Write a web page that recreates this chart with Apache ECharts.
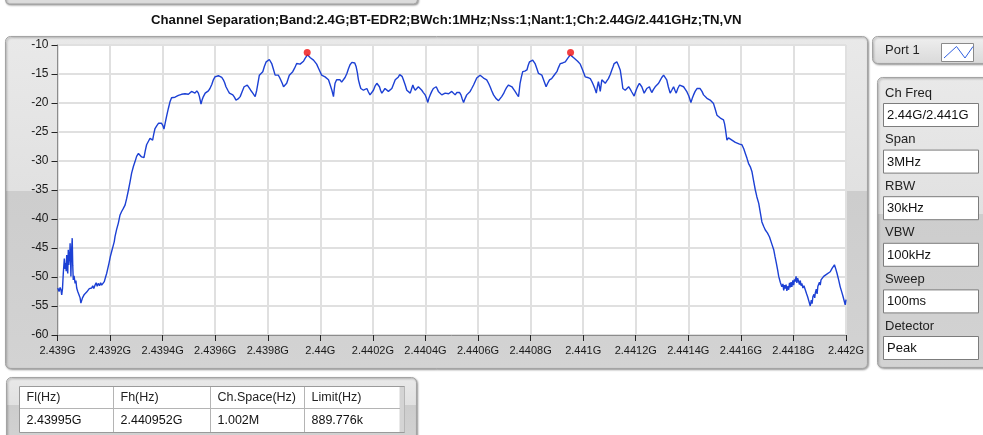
<!DOCTYPE html>
<html>
<head>
<meta charset="utf-8">
<script src="https://cdn.jsdelivr.net/npm/echarts@6/dist/echarts.min.js"></script>
<style>
  html, body { margin: 0; padding: 0; background: #fff; }
  #chart { width: 983px; height: 435px; }
</style>
</head>
<body>
<div id="chart"></div>
<script>
// spectrum trace
var startMHz = 2439
var offsetMHz = [
  0.001, 0.006, 0.010, 0.013, 0.016, 0.019, 0.022, 0.026, 0.029, 0.031, 0.033, 0.035, 0.037, 0.039, 0.041, 0.043,
  0.045, 0.047, 0.048, 0.050, 0.051, 0.053, 0.056, 0.058, 0.060, 0.063, 0.067, 0.070, 0.073, 0.077, 0.082, 0.086,
  0.089, 0.092, 0.095, 0.098, 0.102, 0.107, 0.111, 0.117, 0.121, 0.125, 0.130, 0.134, 0.138, 0.143, 0.147, 0.151,
  0.155, 0.160, 0.164, 0.168, 0.173, 0.178, 0.183, 0.187, 0.191, 0.196, 0.201, 0.206, 0.212, 0.216,
  0.219, 0.225, 0.2315, 0.238, 0.244, 0.250, 0.257, 0.263, 0.270, 0.276, 0.282, 0.289, 0.295, 0.301, 0.308, 0.314,
  0.320, 0.329, 0.334, 0.339, 0.346, 0.352, 0.357, 0.362, 0.366, 0.371, 0.378, 0.384, 0.390, 0.396, 0.401, 0.405,
  0.410, 0.416, 0.422, 0.428, 0.434, 0.441, 0.447, 0.454, 0.460, 0.466, 0.472, 0.479, 0.485, 0.492, 0.498, 0.504,
  0.510, 0.517, 0.523, 0.530, 0.536, 0.540, 0.546, 0.550, 0.555, 0.562, 0.568, 0.574, 0.580, 0.587, 0.593, 0.599,
  0.606, 0.612, 0.618, 0.625, 0.631, 0.636, 0.641, 0.648, 0.654, 0.661, 0.667, 0.673, 0.679, 0.687, 0.695, 0.702,
  0.710, 0.716, 0.722, 0.728, 0.735, 0.743, 0.752, 0.758, 0.763, 0.768, 0.775, 0.781, 0.787, 0.794, 0.800, 0.806,
  0.811, 0.815, 0.821, 0.828, 0.834, 0.840, 0.845, 0.849, 0.855, 0.860, 0.866, 0.872, 0.877, 0.882, 0.888, 0.895,
  0.902, 0.910, 0.917, 0.923, 0.929, 0.936, 0.942, 0.947, 0.951, 0.956, 0.962, 0.967, 0.974, 0.980, 0.986, 0.993,
  1.000, 1.005, 1.012, 1.018, 1.024, 1.031, 1.037, 1.044, 1.050, 1.053, 1.056, 1.062, 1.069, 1.075, 1.081, 1.088,
  1.094, 1.101, 1.107, 1.113, 1.120, 1.126, 1.131, 1.136, 1.141, 1.145, 1.150, 1.154, 1.159, 1.164, 1.170, 1.177,
  1.183, 1.189, 1.195, 1.202, 1.208, 1.215, 1.220, 1.225, 1.229, 1.234, 1.240, 1.246, 1.252, 1.259, 1.265, 1.272,
  1.278, 1.285, 1.291, 1.297, 1.302, 1.306, 1.311, 1.316, 1.323, 1.329, 1.335, 1.342, 1.347, 1.352, 1.356, 1.361,
  1.367, 1.373, 1.380, 1.386, 1.392, 1.399, 1.404, 1.409, 1.413, 1.418, 1.424, 1.430, 1.435, 1.441, 1.445, 1.449,
  1.456, 1.462, 1.468, 1.475, 1.481, 1.488, 1.494, 1.500, 1.507, 1.513, 1.519, 1.526, 1.530, 1.535, 1.540, 1.545,
  1.551, 1.557, 1.563, 1.570, 1.576, 1.583, 1.589, 1.595, 1.602, 1.608, 1.614, 1.621, 1.627, 1.633, 1.640, 1.646,
  1.652, 1.659, 1.668, 1.678, 1.684, 1.690, 1.697, 1.703, 1.709, 1.716, 1.722, 1.729, 1.735, 1.741, 1.748, 1.754,
  1.757, 1.760, 1.765, 1.770, 1.778, 1.786, 1.791, 1.796, 1.802, 1.808, 1.813, 1.817, 1.824, 1.830, 1.836, 1.843,
  1.851, 1.859, 1.865, 1.872, 1.880, 1.887, 1.893, 1.900, 1.906, 1.913, 1.922, 1.932, 1.941, 1.946, 1.951, 1.957,
  1.964, 1.970, 1.979, 1.989, 1.998, 2.008, 2.017, 2.027, 2.033, 2.039, 2.045, 2.050, 2.054, 2.058, 2.062, 2.065,
  2.068, 2.071, 2.077, 2.084, 2.090, 2.096, 2.103, 2.109, 2.114, 2.118, 2.123, 2.128, 2.134, 2.141, 2.146, 2.151,
  2.155, 2.160, 2.166, 2.173, 2.179, 2.185, 2.194, 2.199, 2.204, 2.209, 2.214, 2.219, 2.223, 2.228, 2.232, 2.237,
  2.242, 2.247, 2.252, 2.256, 2.261, 2.267, 2.274, 2.280, 2.287, 2.293, 2.299, 2.306, 2.312, 2.318, 2.324, 2.331,
  2.337, 2.344, 2.349, 2.354, 2.360, 2.367, 2.374, 2.382, 2.388, 2.395, 2.402, 2.410, 2.415, 2.420, 2.426, 2.433,
  2.439, 2.445, 2.452, 2.458, 2.464, 2.471, 2.477, 2.483, 2.490, 2.496, 2.502, 2.509, 2.515, 2.522, 2.528, 2.534,
  2.538, 2.541, 2.544, 2.547, 2.553, 2.560, 2.566, 2.572, 2.579, 2.585, 2.595, 2.604, 2.611, 2.617, 2.623, 2.629,
  2.636, 2.642, 2.648, 2.655, 2.661, 2.668, 2.674, 2.680, 2.687, 2.693, 2.701, 2.709, 2.717, 2.725, 2.730, 2.735,
  2.740, 2.744, 2.750, 2.756, 2.760, 2.763, 2.766, 2.769, 2.772, 2.775, 2.778, 2.782, 2.785, 2.788, 2.791, 2.794,
  2.798, 2.801, 2.804, 2.807, 2.810, 2.813, 2.816, 2.820, 2.823, 2.826, 2.829, 2.832, 2.836, 2.840, 2.845, 2.850,
  2.854, 2.859, 2.864, 2.868, 2.871, 2.874, 2.878, 2.881, 2.883, 2.887, 2.890, 2.893, 2.896, 2.899, 2.902, 2.905,
  2.909, 2.915, 2.921, 2.927, 2.934, 2.940, 2.947, 2.951, 2.956, 2.961, 2.966, 2.972, 2.978, 2.984, 2.989, 2.993,
  2.997, 3.000
]
var levelDb = [
  -51.9, -52.5, -51.8, -52.2, -53.1, -52.0, -49.4, -46.8, -48.6, -47.6, -49.0, -46.2, -48.3, -49.4, -45.3, -47.9,
  -48.2, -45.6, -44.2, -47.5, -49.9, -46.0, -43.3, -48.0, -50.5, -49.8, -51.1, -50.6, -51.9, -52.5, -53.1, -53.6,
  -54.5, -54.3, -53.6, -53.7, -53.0, -53.1, -52.6, -52.5, -52.0, -52.3, -51.9, -51.5, -52.0, -51.4, -51.0, -51.6,
  -51.1, -51.5, -51.0, -51.4, -51.2, -50.8, -50.0, -49.4, -48.6, -47.6, -46.5, -45.6, -44.6, -43.9,
  -43.0, -41.8, -40.7, -39.3, -38.7, -38.2, -37.6, -36.5, -35.0, -33.6, -32.1, -30.9, -30.1, -29.2, -28.7, -28.9,
  -29.3, -29.4, -28.2, -27.2, -26.6, -26.1, -26.0, -26.4, -25.4, -24.4, -23.9, -23.5, -23.3, -23.5, -23.9, -24.5,
  -23.4, -22.1, -20.9, -19.8, -19.1, -18.9, -19.0, -19.2, -18.7, -18.6, -18.5, -18.2, -18.4, -18.1, -18.5, -18.3,
  -18.0, -18.2, -18.3, -17.9, -18.3, -18.9, -20.2, -19.5, -18.9, -18.3, -18.0, -17.9, -17.5, -16.8, -16.0, -15.5,
  -15.2, -15.3, -15.5, -15.6, -16.0, -16.5, -17.2, -17.8, -18.3, -18.4, -18.6, -19.0, -19.5, -19.3, -18.9, -18.1,
  -17.2, -17.0, -16.9, -17.3, -17.8, -18.3, -18.9, -17.8, -16.5, -15.2, -14.9, -14.6, -13.7, -12.9, -12.6, -12.5,
  -12.8, -13.2, -14.1, -15.2, -15.1, -15.2, -15.6, -16.0, -16.6, -17.2, -16.9, -16.6, -15.9, -15.2, -14.9, -14.6,
  -14.0, -13.2, -13.0, -13.3, -13.2, -12.8, -12.3, -12.0, -11.7, -12.0, -12.2, -12.3, -12.6, -12.9, -13.3, -14.0,
  -14.7, -15.2, -15.3, -15.5, -15.6, -16.0, -16.8, -17.8, -18.9, -17.6, -16.6, -16.0, -16.1, -16.0, -16.4, -16.3,
  -15.6, -14.9, -14.1, -13.4, -13.0, -12.9, -13.1, -13.7, -14.8, -16.0, -16.9, -17.5, -17.7, -17.8, -17.6, -17.5,
  -18.1, -18.6, -18.3, -17.8, -17.1, -16.6, -16.9, -17.2, -17.8, -18.3, -17.9, -17.5, -17.8, -18.0, -17.8, -17.5,
  -16.8, -16.0, -15.7, -15.5, -15.1, -14.9, -15.4, -16.0, -16.9, -17.8, -18.1, -18.3, -17.6, -16.9, -17.4, -17.8,
  -17.5, -17.2, -17.5, -17.8, -18.2, -18.6, -19.2, -19.9, -19.2, -18.6, -18.0, -17.5, -17.3, -17.2, -17.6, -18.0,
  -18.3, -18.6, -18.4, -18.3, -18.5, -18.4, -18.2, -18.0, -18.3, -18.6, -18.2, -17.9, -18.2, -18.6, -19.3, -19.9,
  -19.2, -18.6, -18.3, -18.0, -17.5, -16.9, -16.3, -15.7, -15.4, -15.2, -15.4, -15.7, -15.8, -16.0, -16.6, -17.2,
  -17.9, -18.6, -19.2, -19.6, -19.3, -18.9, -18.4, -17.8, -17.3, -16.9, -17.0, -17.2, -17.6, -18.0, -18.5, -18.9,
  -17.8, -16.6, -15.5, -14.6, -14.5, -14.3, -13.5, -12.9, -12.7, -12.6, -12.9, -13.2, -14.1, -14.9, -15.0, -15.2,
  -16.2, -17.2, -16.6, -16.0, -15.8, -15.5, -15.0, -14.6, -13.9, -13.2, -13.1, -12.9, -12.3, -12.0, -11.7, -12.0,
  -12.2, -12.3, -12.8, -13.3, -14.3, -15.5, -15.6, -15.8, -16.3, -16.9, -17.6, -18.3, -17.2, -16.3, -17.2, -18.0,
  -17.0, -16.0, -16.3, -16.6, -16.2, -15.8, -15.1, -14.3, -13.7, -13.2, -13.0, -12.9, -13.5, -14.3, -15.8, -17.5,
  -17.7, -17.8, -17.5, -17.2, -17.6, -18.1, -18.8, -18.1, -17.5, -17.0, -16.6, -16.9, -17.2, -17.8, -18.3, -17.9,
  -17.5, -17.3, -17.2, -17.7, -18.2, -17.7, -17.2, -16.9, -16.6, -16.1, -15.6, -15.2, -15.5, -16.0, -17.2, -18.3,
  -17.8, -17.2, -17.8, -18.3, -17.5, -16.9, -17.0, -17.2, -17.6, -18.1, -18.8, -19.9, -19.2, -18.6, -18.0, -17.5,
  -17.4, -17.5, -18.0, -18.6, -18.9, -19.2, -19.4, -19.5, -19.7, -20.1, -21.0, -22.1, -22.4, -22.6, -22.8, -22.9,
  -23.6, -24.4, -25.4, -26.4, -26.0, -26.1, -26.4, -26.7, -26.8, -27.0, -27.1, -27.2, -27.9, -28.7, -29.5, -30.4,
  -31.0, -31.8, -33.3, -35.0, -36.2, -37.3, -38.9, -40.5, -41.3, -41.9, -42.4, -43.1, -44.2, -45.3, -46.5, -47.6,
  -48.8, -49.9, -50.9, -51.7, -51.2, -52.3, -51.4, -52.0, -51.3, -52.4, -51.6, -52.2, -51.0, -51.8, -50.9, -51.7,
  -50.6, -51.4, -50.4, -50.8, -49.9, -51.0, -50.2, -50.5, -51.3, -50.6, -51.5, -51.1, -51.9, -51.5, -52.2, -52.9,
  -53.4, -54.2, -55.0, -54.0, -54.6, -53.4, -53.0, -53.6, -52.8, -52.1, -52.9, -51.6, -51.7, -50.9, -51.4, -50.5,
  -50.2, -49.9, -49.7, -49.5, -49.7, -49.1, -48.5, -48.2, -47.9, -48.6, -49.4, -50.5, -51.7, -52.6, -53.4, -54.1,
  -54.8, -53.9
]
// the two red markers (Fl / Fh)
var markerMHz = [2439.95, 2440.952]
var markerDb = [-11.3, -11.3]

var title = 'Channel Separation;Band:2.4G;BT-EDR2;BWch:1MHz;Nss:1;Nant:1;Ch:2.44G/2.441GHz;TN,VN'
var settingNames = ['Ch Freq', 'Span', 'RBW', 'VBW', 'Sweep', 'Detector']
var settingValues = ['2.44G/2.441G', '3MHz', '30kHz', '100kHz', '100ms', 'Peak']
var tableHead = ['Fl(Hz)', 'Fh(Hz)', 'Ch.Space(Hz)', 'Limit(Hz)']
var tableRow = ['2.43995G', '2.440952G', '1.002M', '889.776k']

var FONT = '"Liberation Sans", Arial, sans-serif'

var trace = offsetMHz.map(function (o, i) {
  return [startMHz + o, levelDb[i]]
})
var markers = markerMHz.map(function (f, i) {
  return [f, markerDb[i]]
})

// grey LabVIEW style panel fill
function panelFill(split) {
  return new echarts.graphic.LinearGradient(0, 0, 0, 1, [
    { offset: 0, color: '#e9e9e9' },
    { offset: split, color: '#e1e1e1' },
    { offset: split + 0.001, color: '#cdcdcd' },
    { offset: 1, color: '#d3d3d3' }
  ])
}

var panelShadow = {
  shadowBlur: 2,
  shadowOffsetX: 1,
  shadowOffsetY: 1,
  shadowColor: 'rgba(0,0,0,0.35)'
}

var elements = []
// partial panel at the very top
elements.push({
  type: 'rect', z: -10,
  shape: { x: 5.5, y: -10, width: 412, height: 14, r: 4 },
  style: Object.assign({ fill: '#dcdcdc', stroke: '#a4a4a4', lineWidth: 1 }, panelShadow)
})
// main graph panel
elements.push({
  type: 'rect', z: -10,
  shape: { x: 5.5, y: 36.5, width: 862, height: 332, r: 5 },
  style: Object.assign({ fill: panelFill(0.465), stroke: '#a4a4a4', lineWidth: 1 }, panelShadow)
})
// port tab
elements.push({
  type: 'rect', z: -10,
  shape: { x: 872.5, y: 36.5, width: 130, height: 27, r: 5 },
  style: Object.assign({
    fill: new echarts.graphic.LinearGradient(0, 0, 0, 1, [
      { offset: 0, color: '#f0f0f0' }, { offset: 1, color: '#d9d9d9' }
    ]),
    stroke: '#a4a4a4', lineWidth: 1
  }, panelShadow)
})
elements.push({
  type: 'text', z: 5,
  style: { x: 885, y: 50, text: 'Port 1', font: '13px ' + FONT, fill: '#222', verticalAlign: 'middle' }
})
elements.push({
  type: 'rect', z: 5,
  shape: { x: 941.5, y: 43.5, width: 32, height: 18 },
  style: { fill: '#fff', stroke: '#8a8a8a', lineWidth: 1 }
})
elements.push({
  type: 'polyline', z: 6,
  shape: { points: [[944, 58], [956.5, 46.5], [965, 58], [973, 46.5]] },
  style: { stroke: '#3060e0', lineWidth: 1, fill: null }
})
// settings panel
elements.push({
  type: 'rect', z: -10,
  shape: { x: 877.5, y: 77.5, width: 120, height: 290, r: 5 },
  style: Object.assign({ fill: panelFill(0.47), stroke: '#a4a4a4', lineWidth: 1 }, panelShadow)
})
settingNames.forEach(function (name, i) {
  var top = 84 + i * 46.6
  elements.push({
    type: 'text', z: 5,
    style: { x: 885, y: top + 9, text: name, font: '13px ' + FONT, fill: '#222', verticalAlign: 'middle' }
  })
  elements.push({
    type: 'rect', z: 5,
    shape: { x: 883.5, y: top + 19.5, width: 95, height: 23 },
    style: { fill: '#fff', stroke: '#7c7c7c', lineWidth: 1 }
  })
  elements.push({
    type: 'text', z: 6,
    style: { x: 887, y: top + 31.5, text: settingValues[i], font: '13px ' + FONT, fill: '#111', verticalAlign: 'middle' }
  })
})
// result table panel
elements.push({
  type: 'rect', z: -10,
  shape: { x: 6.5, y: 377.5, width: 410, height: 70, r: 5 },
  style: Object.assign({ fill: panelFill(0.4), stroke: '#a4a4a4', lineWidth: 1 }, panelShadow)
})
elements.push({
  type: 'rect', z: 4,
  shape: { x: 19.5, y: 386.5, width: 385, height: 46 },
  style: { fill: '#fff', stroke: '#9a9a9a', lineWidth: 1 }
})
elements.push({
  type: 'rect', z: 5,
  shape: { x: 399.5, y: 387, width: 5, height: 45 },
  style: { fill: '#d4d4d4', stroke: null }
})
elements.push({
  type: 'line', z: 5,
  shape: { x1: 20, y1: 408.5, x2: 400, y2: 408.5 },
  style: { stroke: '#b4b4b4', lineWidth: 1 }
})
var colX = [19.5, 113.5, 210.5, 304.5]
colX.forEach(function (x, i) {
  if (i > 0) {
    elements.push({
      type: 'line', z: 5,
      shape: { x1: x, y1: 387, x2: x, y2: 432 },
      style: { stroke: '#b4b4b4', lineWidth: 1 }
    })
  }
  elements.push({
    type: 'text', z: 6,
    style: { x: x + 7, y: 398, text: tableHead[i], font: '12.5px ' + FONT, fill: '#222', verticalAlign: 'middle' }
  })
  elements.push({
    type: 'text', z: 6,
    style: { x: x + 7, y: 421, text: tableRow[i], font: '12.5px ' + FONT, fill: '#111', verticalAlign: 'middle' }
  })
})

var chart = echarts.init(document.getElementById('chart'))
chart.setOption({
  animation: false,
  backgroundColor: '#fff',
  title: {
    text: title,
    left: 146,
    top: 9,
    textStyle: { fontFamily: FONT, fontSize: 13.2, fontWeight: 'bold', color: '#111' }
  },
  grid: {
    left: 57.5,
    top: 45,
    width: 788.5,
    height: 290,
    show: true,
    backgroundColor: '#fff',
    borderColor: '#a0a0a0',
    borderWidth: 1,
    outerBoundsMode: 'none'
  },
  xAxis: {
    type: 'value',
    min: 2439,
    max: 2442,
    interval: 0.2,
    axisLine: { show: true, lineStyle: { color: '#8c8c8c' } },
    axisTick: { show: true, length: 6, lineStyle: { color: '#222' } },
    axisLabel: {
      margin: 10,
      color: '#1a1a1a',
      fontFamily: FONT,
      fontSize: 11,
      formatter: function (v) {
        return Number((v / 1000).toFixed(4)) + 'G'
      }
    },
    splitLine: { show: true, lineStyle: { color: '#e0e0e0', width: 2 } }
  },
  yAxis: {
    type: 'value',
    min: -60,
    max: -10,
    interval: 5,
    axisLine: { show: true, lineStyle: { color: '#8c8c8c' } },
    axisTick: { show: true, length: 6, lineStyle: { color: '#222' } },
    axisLabel: { margin: 9, color: '#1a1a1a', fontFamily: FONT, fontSize: 12 },
    splitLine: { show: true, lineStyle: { color: '#e0e0e0', width: 2 } }
  },
  series: [
    {
      name: 'Port 1',
      type: 'line',
      data: trace,
      showSymbol: false,
      lineStyle: { color: '#1c40d4', width: 1.4 },
      z: 3
    },
    {
      type: 'scatter',
      data: markers,
      symbolSize: 7,
      itemStyle: { color: '#f01010' },
      z: 4
    }
  ],
  graphic: { elements: elements }
})
</script>
</body>
</html>
